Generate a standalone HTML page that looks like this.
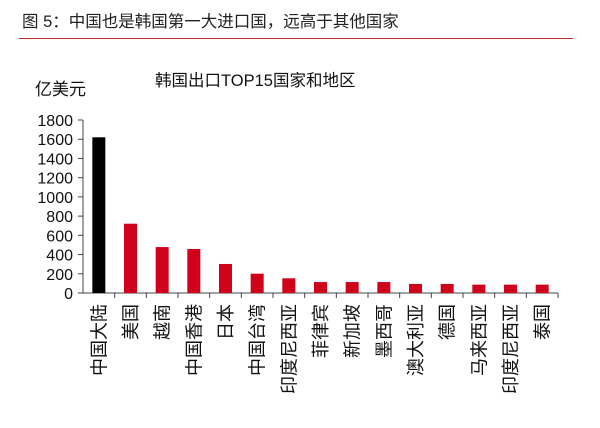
<!DOCTYPE html>
<html><head><meta charset="utf-8"><style>
body{margin:0;background:#fff;width:600px;height:423px;overflow:hidden;font-family:"Liberation Sans","Noto Sans CJK SC",sans-serif;}
</style></head><body>
<svg width="600" height="423" font-family="Liberation Sans, Noto Sans CJK SC, sans-serif">
<text x="22" y="27" font-size="16.5" fill="#222">图 5：中国也是韩国第一大进口国，远高于其他国家</text>
<line x1="19" y1="38.5" x2="573" y2="38.5" stroke="#c0302a" stroke-width="1"/>
<text x="155" y="86" font-size="16.5" fill="#111">韩国出口TOP15国家和地区</text>
<text x="35" y="95" font-size="17" fill="#111">亿美元</text>
<g id="g"></g>
</svg>
<script>
const categories=["中国大陆","美国","越南","中国香港","日本","中国台湾","印度尼西亚","菲律宾","新加坡","墨西哥","澳大利亚","德国","马来西亚","印度尼西亚","泰国"];
const values=[1620,721,478,458,302,201,153,114,114,114,94,94,87,87,87];
const yTicks=[0,200,400,600,800,1000,1200,1400,1600,1800];
const ns="http://www.w3.org/2000/svg",g=document.getElementById('g');
const x0=83,x1=558,y0=293,yTop=120,yMax=1800;
const y=v=>y0-(v/yMax)*(y0-yTop);
const bw=(x1-x0)/categories.length;
function mk(t,a){const e=document.createElementNS(ns,t);for(const k in a)e.setAttribute(k,a[k]);g.appendChild(e);return e;}
let e=mk('line',{x1:x0,y1:yTop,x2:x0,y2:y0,stroke:'#444'});


e=mk('line',{x1:x0,y1:y0,x2:x1,y2:y0,stroke:'#444'});


yTicks.forEach(v=>{
 let t=mk('line',{x1:x0-5,y1:y(v),x2:x0,y2:y(v),stroke:'#444'});
 
 
 let l=mk('text',{x:x0-10,y:y(v)+6,'font-size':16,'text-anchor':'end',fill:'#111'});
 l.textContent=v;
 
 
});
categories.forEach((c,i)=>{
 const cx=x0+bw*(i+0.5);
 let t=mk('line',{x1:x0+bw*(i+1),y1:y0,x2:x0+bw*(i+1),y2:y0+5,stroke:'#444'});
 
 
 let r=mk('rect',{x:cx-6.5,y:y(values[i]),width:13,height:y0-y(values[i]),fill:i==0?'#000':'#d0021b'});
 
 
 let l=mk('text',{x:0,y:0,'font-size':18,fill:'#111','text-anchor':'end',transform:'translate('+(cx+6.5)+','+(y0+11)+') rotate(-90)'});
 l.textContent=c;
 
 
});
</script>
</body></html>
